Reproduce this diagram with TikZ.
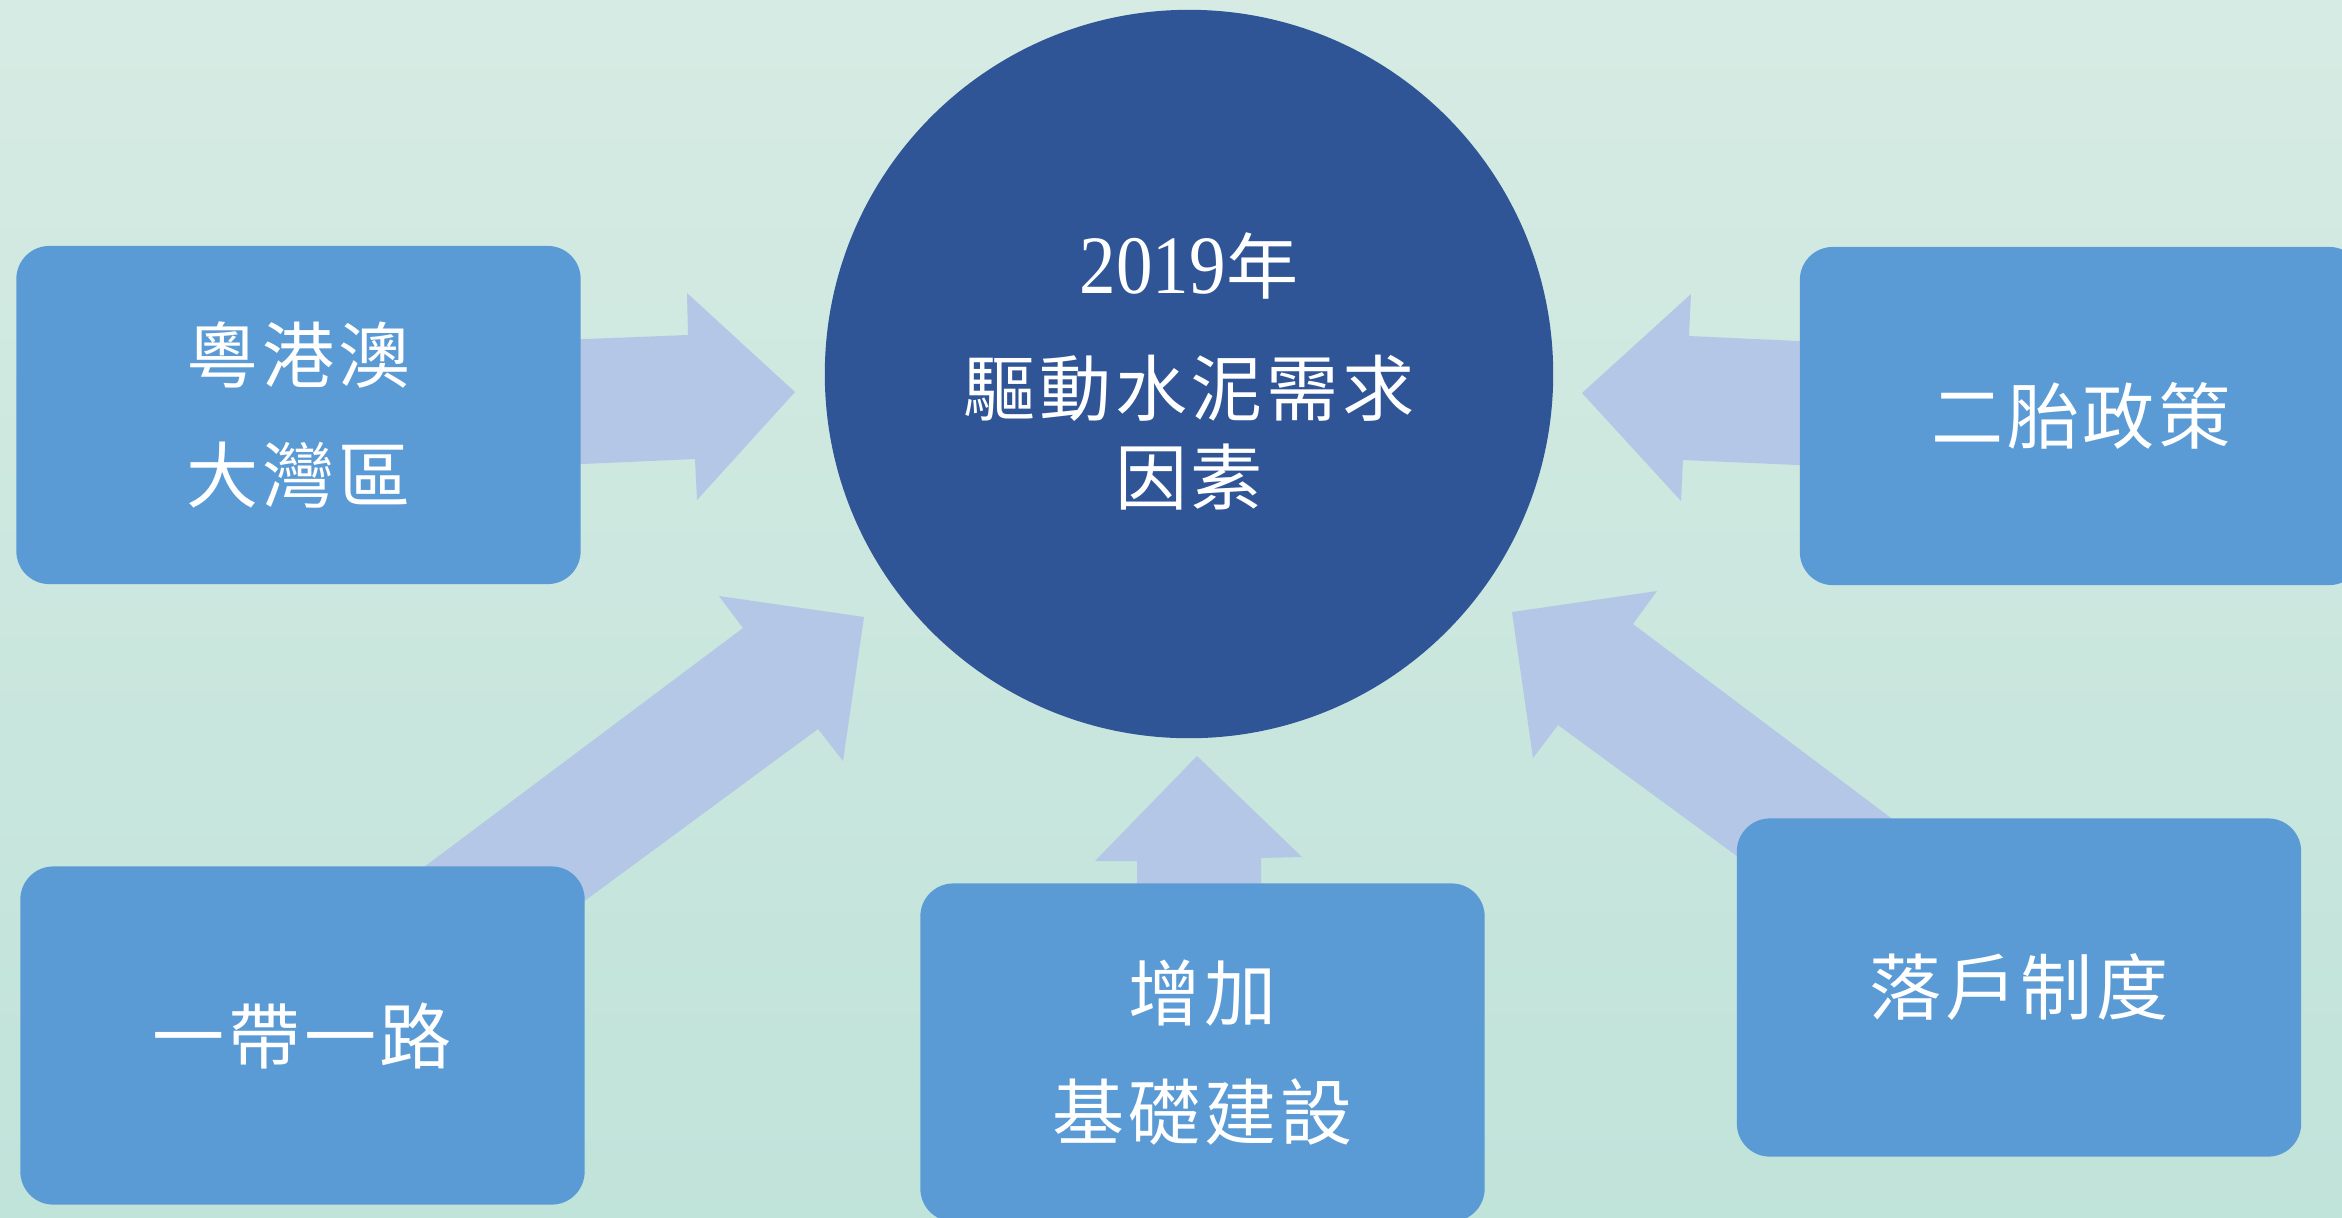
\documentclass[tikz,border=0pt]{standalone}
\usepackage{graphicx}
\usepackage{fontspec}
\setmainfont{Liberation Serif}
\newfontfamily\cjk[LetterSpace=5]{Noto Sans CJK TC}
\definecolor{bgtop}{HTML}{D6EBE3}
\definecolor{bgbot}{HTML}{C0E3DA}
\definecolor{boxblue}{HTML}{5B9BD5}
\definecolor{circblue}{HTML}{2F5597}
\definecolor{arrblue}{HTML}{B4C7E7}
\tikzset{
  factor/.style={fill=boxblue, rounded corners=0.33cm, minimum width=5.64cm, minimum height=3.38cm,
    text=white, align=center, font=\cjk\fontsize{20.5}{34}\selectfont, inner sep=0},
  hub/.style={circle, fill=circblue, minimum size=7.28cm, inner sep=0},
  hubtext/.style={text=white, font=\cjk\fontsize{20.5}{24}\selectfont, inner sep=0},
  blockarrow/.style={fill=arrblue},
}
\begin{document}
\begin{tikzpicture}[x=0.01cm,y=-0.01cm]
\useasboundingbox (0,0) rectangle (2342,1217);
\clip (0,0) rectangle (2342,1217);
\shade[top color=bgtop, middle color=bgtop, bottom color=bgbot] (0,0) rectangle (2342,1217);

% block arrows
\fill[blockarrow] (560,340) -- (688,335) -- (687,293) -- (795,392) -- (697,500) -- (695,459) -- (560,465) -- cycle;
\fill[blockarrow] (1820,342) -- (1689,336) -- (1691,294) -- (1582,393) -- (1681,501) -- (1683,460) -- (1820,466) -- cycle;
\fill[blockarrow] (1137,900) -- (1137,861) -- (1095,861) -- (1197,756) -- (1302,857) -- (1261,858) -- (1261,900) -- cycle;
\fill[blockarrow] (400,885) -- (743,628) -- (719,596) -- (864,617) -- (843,761) -- (818,729) -- (560,919) -- cycle;
\fill[blockarrow] (1915,836) -- (1633,624) -- (1657,591) -- (1512,612) -- (1533,758) -- (1558,725) -- (1760,873) -- cycle;

% hub
\node[hub] (hub) at (1189,374) {};
\node[hubtext, anchor=base] (year) at (1189,293) {{\rmfamily\fontsize{23.6}{24}\selectfont\scalebox{0.88}[1]{2019}}年};
\node[hubtext] (drive) at (1189,388) {驅動水泥需求};
\node[hubtext] (factors) at (1189,477) {因素};

% factor boxes
\node[factor] (gba) at (298.5,415) {粵港澳\\大灣區};
\node[factor, minimum width=5.62cm] (child) at (2081,416) {二胎政策};
\node[factor] (belt) at (302.5,1035.5) {一帶一路};
\node[factor] (infra) at (1202.5,1052.5) {增加\\基礎建設};
\node[factor] (hukou) at (2019,987.5) {落戶制度};
\end{tikzpicture}
\end{document}
